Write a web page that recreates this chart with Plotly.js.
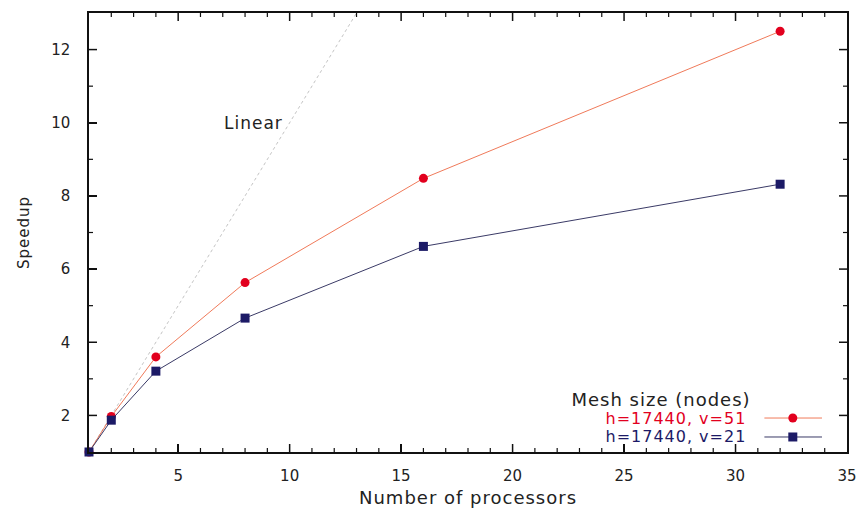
<!DOCTYPE html>
<html>
<head>
<meta charset="utf-8">
<script src="https://cdn.plot.ly/plotly-3.0.1.min.js"></script>
<style>
  html, body { margin: 0; padding: 0; background: #fff; }
  #chart { width: 857px; height: 508px; }
  #chart svg .annotation-text, #chart svg .g-xtitle text, #chart svg .g-ytitle text { letter-spacing: 1px; }
</style>
</head>
<body>
<div id="chart"></div>
<script>
// ---- data ----
const processors = [1, 2, 4, 8, 16, 32];
const speedupV51 = [1.0, 1.97, 3.6, 5.63, 8.48, 12.5];
const speedupV21 = [1.0, 1.87, 3.21, 4.66, 6.62, 8.32];
const linearX = [1, 13];
const linearY = [1, 13];
const seriesNames = ['h=17440, v=51', 'h=17440, v=21'];
const legendTitle = 'Mesh size (nodes)';
const linearLabel = 'Linear';
const xTitle = 'Number of processors';
const yTitle = 'Speedup';
const xRange = [1, 35];
const yRange = [1, 13];
const xDtick = 5, yDtick = 2, minorStep = 1;

const FONT = 'DejaVu Sans, Arial, sans-serif';
const RED = '#e2001e';
const RED_LINE = '#f07a5a';
const BLUE = '#1c1a66';
const BLUE_LINE = '#3a3a66';
const TICK = '#111';

// tick positions derived from the axis ranges (gnuplot-style inside ticks on all four sides)
function stepsIn(lo, hi, step) {
  const out = [];
  for (let v = Math.ceil(lo / step) * step; v <= hi + 1e-9; v += step) {
    if (v > lo + 1e-9 && v < hi - 1e-9) out.push(v);
  }
  return out;
}
const xMajor = stepsIn(xRange[0], xRange[1], xDtick);
const yMajor = stepsIn(yRange[0], yRange[1], yDtick);
const xMinor = stepsIn(xRange[0], xRange[1], minorStep).filter(v => v % xDtick !== 0);
const yMinor = stepsIn(yRange[0], yRange[1], minorStep).filter(v => v % yDtick !== 0);

// axis fraction of a tick value (for frame-decoration ticks drawn in paper space)
const fx = v => (v - xRange[0]) / (xRange[1] - xRange[0]);
const fy = v => (v - yRange[0]) / (yRange[1] - yRange[0]);

const MAJ = 8, MIN = 4;
function xTick(v, len, top) {
  const p = fx(v);
  return { type: 'line', xref: 'paper', yref: 'paper', ysizemode: 'pixel', yanchor: top ? 1 : 0,
    x0: p, x1: p, y0: 0, y1: top ? -len : len, layer: 'above',
    line: { color: TICK, width: len === MAJ ? 1.5 : 1.2 } };
}
function yTick(v, len, right) {
  const p = fy(v);
  return { type: 'line', xref: 'paper', yref: 'paper', xsizemode: 'pixel', xanchor: right ? 1 : 0,
    y0: p, y1: p, x0: 0, x1: right ? -len : len, layer: 'above',
    line: { color: TICK, width: len === MAJ ? 1.5 : 1.2 } };
}
const tickShapes = [];
xMajor.forEach(v => { tickShapes.push(xTick(v, MAJ, false), xTick(v, MAJ, true)); });
xMinor.forEach(v => { tickShapes.push(xTick(v, MIN, false), xTick(v, MIN, true)); });
yMajor.forEach(v => { tickShapes.push(yTick(v, MAJ, false), yTick(v, MAJ, true)); });
yMinor.forEach(v => { tickShapes.push(yTick(v, MIN, false), yTick(v, MIN, true)); });

const traces = [
  {
    x: linearX, y: linearY, mode: 'lines', type: 'scatter',
    line: { color: '#c4c4c4', width: 1, dash: 'dot' },
    showlegend: false, hoverinfo: 'skip'
  },
  {
    x: processors, y: speedupV51, mode: 'lines+markers', type: 'scatter',
    name: seriesNames[0],
    line: { color: RED_LINE, width: 1 },
    marker: { color: RED, size: 9, symbol: 'circle' },
    showlegend: false, cliponaxis: false
  },
  {
    x: processors, y: speedupV21, mode: 'lines+markers', type: 'scatter',
    name: seriesNames[1],
    line: { color: BLUE_LINE, width: 1 },
    marker: { color: BLUE, size: 9, symbol: 'square' },
    showlegend: false, cliponaxis: false
  }
];

const legTitleX = 0.864;
const legTextX = 0.862;
const legRows = [0.0774, 0.0342];
const legSampleX0 = 0.891, legSampleX1 = 0.967, legMarkX = 0.9285;

const annotations = [
  { x: 8.4, y: 10, xref: 'x', yref: 'y', text: linearLabel, showarrow: false,
    font: { family: FONT, size: 17, color: '#222' } },
  { x: legTitleX, y: 0.1185, xref: 'paper', yref: 'paper', text: legendTitle,
    xanchor: 'right', yanchor: 'middle', showarrow: false,
    font: { family: FONT, size: 18, color: '#222' } },
  { x: legTextX, y: legRows[0], xref: 'paper', yref: 'paper', text: seriesNames[0],
    xanchor: 'right', yanchor: 'middle', showarrow: false,
    font: { family: FONT, size: 16, color: RED } },
  { x: legTextX, y: legRows[1], xref: 'paper', yref: 'paper', text: seriesNames[1],
    xanchor: 'right', yanchor: 'middle', showarrow: false,
    font: { family: FONT, size: 16, color: BLUE } }
];

const legendShapes = [
  { type: 'line', xref: 'paper', yref: 'paper', x0: legSampleX0, x1: legSampleX1,
    y0: legRows[0], y1: legRows[0], line: { color: RED_LINE, width: 1 } },
  { type: 'circle', xref: 'paper', yref: 'paper', xsizemode: 'pixel', ysizemode: 'pixel',
    xanchor: legMarkX, yanchor: legRows[0], x0: -4.5, x1: 4.5, y0: -4.5, y1: 4.5,
    fillcolor: RED, line: { width: 0 } },
  { type: 'line', xref: 'paper', yref: 'paper', x0: legSampleX0, x1: legSampleX1,
    y0: legRows[1], y1: legRows[1], line: { color: BLUE_LINE, width: 1 } },
  { type: 'rect', xref: 'paper', yref: 'paper', xsizemode: 'pixel', ysizemode: 'pixel',
    xanchor: legMarkX, yanchor: legRows[1], x0: -4.5, x1: 4.5, y0: -4.5, y1: 4.5,
    fillcolor: BLUE, line: { width: 0 } }
];

const layout = {
  width: 857, height: 508,
  margin: { l: 89, r: 10, t: 13, b: 56 },
  paper_bgcolor: '#fff', plot_bgcolor: '#fff',
  showlegend: false,
  xaxis: {
    range: xRange, tick0: 0, dtick: xDtick,
    showgrid: false, zeroline: false, showline: true, linecolor: '#111', linewidth: 1.6, mirror: true,
    ticks: 'inside', ticklen: MAJ, tickwidth: 1.5, tickcolor: TICK, ticklabelstandoff: 9,
    tickfont: { family: FONT, size: 15, color: '#222' },
    title: { text: xTitle, standoff: 10, font: { family: FONT, size: 18, color: '#222' } }
  },
  yaxis: {
    range: yRange, tick0: 0, dtick: yDtick,
    showgrid: false, zeroline: false, showline: true, linecolor: '#111', linewidth: 1.6, mirror: true,
    ticks: 'inside', ticklen: MAJ, tickwidth: 1.5, tickcolor: TICK, ticklabelstandoff: 14,
    tickfont: { family: FONT, size: 15, color: '#222' },
    title: { text: yTitle, standoff: 18, font: { family: FONT, size: 15, color: '#222' } }
  },
  annotations: annotations,
  shapes: tickShapes.concat(legendShapes)
};

Plotly.newPlot('chart', traces, layout, { staticPlot: true, displayModeBar: false });
</script>
</body>
</html>
